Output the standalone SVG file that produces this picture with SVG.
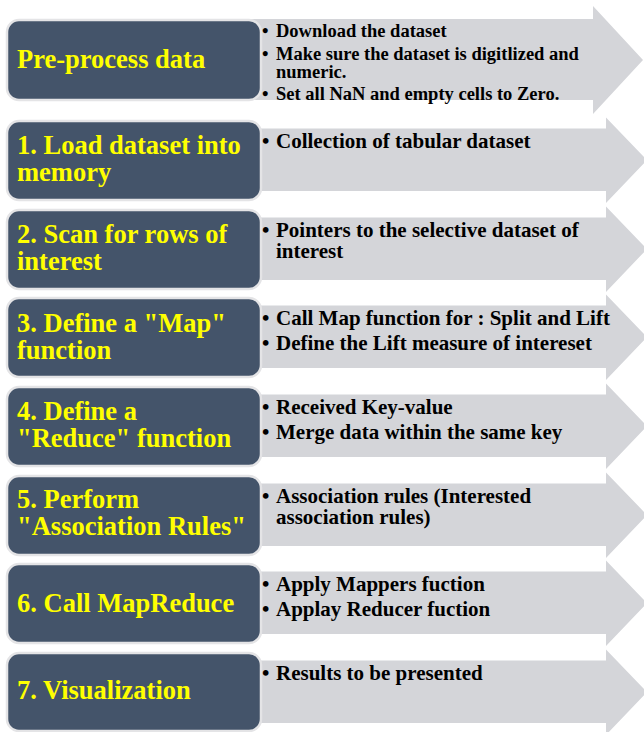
<svg xmlns="http://www.w3.org/2000/svg" width="644" height="732" viewBox="0 0 644 732">
  <style>
    .arrow { fill: #d4d5d9; }
    .box { fill: #44546a; stroke: #e4e4e6; stroke-width: 2.5; }
    .title { font-family: "Liberation Serif", "Times New Roman", serif; font-weight: bold; font-size: 26.5px; fill: #ffff00; }
    .item { font-family: "Liberation Serif", "Times New Roman", serif; font-weight: bold; font-size: 21px; fill: #000000; }
    .item-sm { font-family: "Liberation Serif", "Times New Roman", serif; font-weight: bold; font-size: 18.5px; fill: #000000; }
  </style>
  <rect width="644" height="732" fill="#ffffff"/>

  <!-- Pre-processing step -->
  <g id="step-preprocess">
    <path class="arrow" d="M250,19 H593 V6 L643,60 L593,114 V100 H250 Z"/>
    <rect class="box" x="7" y="20" width="254" height="80" rx="12"/>
    <text class="title" x="17" y="68">Pre-process data</text>
    <text class="item-sm" x="262" y="37">•</text>
    <text class="item-sm" x="276" y="37">Download the dataset</text>
    <text class="item-sm" x="262" y="60">•</text>
    <text class="item-sm" x="276" y="60">Make sure the dataset is digitlized and</text>
    <text class="item-sm" x="276" y="78">numeric.</text>
    <text class="item-sm" x="262" y="100">•</text>
    <text class="item-sm" x="276" y="100">Set all NaN and empty cells to Zero.</text>
  </g>

  <!-- Step 1 -->
  <g id="step-1">
    <path class="arrow" d="M250,128.5 H606 V117.5 L647,160 L606,203 V191 H250 Z"/>
    <rect class="box" x="7" y="121" width="254" height="79" rx="12"/>
    <text class="title" x="17" y="154">1. Load dataset into</text>
    <text class="title" x="17" y="181">memory</text>
    <text class="item" x="262" y="148">•</text>
    <text class="item" x="276" y="148">Collection of tabular dataset</text>
  </g>

  <!-- Step 2 -->
  <g id="step-2">
    <path class="arrow" d="M250,217.5 H606 V206.5 L647,249 L606,292 V280 H250 Z"/>
    <rect class="box" x="7" y="210" width="254" height="79" rx="12"/>
    <text class="title" x="17" y="243">2. Scan for rows of</text>
    <text class="title" x="17" y="270">interest</text>
    <text class="item" x="262" y="237">•</text>
    <text class="item" x="276" y="237">Pointers to the selective dataset of</text>
    <text class="item" x="276" y="258">interest</text>
  </g>

  <!-- Step 3 -->
  <g id="step-3">
    <path class="arrow" d="M250,305.5 H606 V294.5 L647,337 L606,380 V368 H250 Z"/>
    <rect class="box" x="7" y="298" width="254" height="79" rx="12"/>
    <text class="title" x="17" y="332">3. Define a "Map"</text>
    <text class="title" x="17" y="359">function</text>
    <text class="item" x="262" y="325">•</text>
    <text class="item" x="276" y="325">Call Map function for : Split and Lift</text>
    <text class="item" x="262" y="350">•</text>
    <text class="item" x="276" y="350">Define the Lift measure of intereset</text>
  </g>

  <!-- Step 4 -->
  <g id="step-4">
    <path class="arrow" d="M250,394.5 H606 V383.5 L647,426 L606,469 V457 H250 Z"/>
    <rect class="box" x="7" y="387" width="254" height="79" rx="12"/>
    <text class="title" x="17" y="420">4. Define a</text>
    <text class="title" x="17" y="447">"Reduce" function</text>
    <text class="item" x="262" y="414">•</text>
    <text class="item" x="276" y="414">Received Key-value</text>
    <text class="item" x="262" y="439">•</text>
    <text class="item" x="276" y="439">Merge data within the same key</text>
  </g>

  <!-- Step 5 -->
  <g id="step-5">
    <path class="arrow" d="M250,483.5 H606 V472.5 L647,515 L606,558 V546 H250 Z"/>
    <rect class="box" x="7" y="476" width="254" height="79" rx="12"/>
    <text class="title" x="17" y="508">5. Perform</text>
    <text class="title" x="17" y="535">"Association Rules"</text>
    <text class="item" x="262" y="503">•</text>
    <text class="item" x="276" y="503">Association rules (Interested</text>
    <text class="item" x="276" y="524">association rules)</text>
  </g>

  <!-- Step 6 -->
  <g id="step-6">
    <path class="arrow" d="M250,571.5 H606 V560.5 L647,603 L606,646 V634 H250 Z"/>
    <rect class="box" x="7" y="564" width="254" height="79" rx="12"/>
    <text class="title" x="17" y="612">6. Call MapReduce</text>
    <text class="item" x="262" y="591">•</text>
    <text class="item" x="276" y="591">Apply Mappers fuction</text>
    <text class="item" x="262" y="616">•</text>
    <text class="item" x="276" y="616">Applay Reducer fuction</text>
  </g>

  <!-- Step 7 -->
  <g id="step-7">
    <path class="arrow" d="M250,660.5 H606 V649.5 L647,692 L606,735 V723 H250 Z"/>
    <rect class="box" x="7" y="653" width="254" height="78" rx="12"/>
    <text class="title" x="17" y="699">7. Visualization</text>
    <text class="item" x="262" y="680">•</text>
    <text class="item" x="276" y="680">Results to be presented</text>
  </g>

  <!-- no connector lines between steps -->
  <g id="connectors"/>
</svg>
